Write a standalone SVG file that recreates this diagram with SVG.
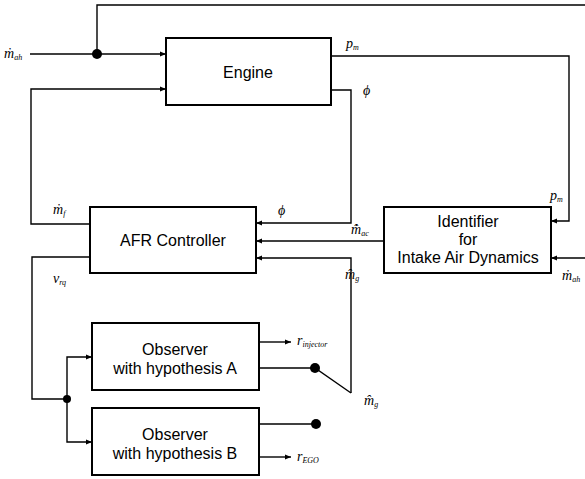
<svg xmlns="http://www.w3.org/2000/svg" width="585" height="479" viewBox="0 0 585 479">
<defs>
<style>
.box{fill:#fff;stroke:#000;stroke-width:2}
.ln{fill:none;stroke:#000;stroke-width:1.4}
.t{font-family:"Liberation Sans",Arial,sans-serif;font-size:16px;text-anchor:middle;fill:#000}
.m{font-family:"Liberation Serif","Times New Roman",serif;font-style:italic;font-size:14px;fill:#000}
.s{font-size:8px}
</style>
<marker id="ah" viewBox="0 0 10 10" refX="10" refY="5" markerWidth="8" markerHeight="6" orient="auto" markerUnits="userSpaceOnUse">
<path d="M0,1 L10,5 L0,9 z" fill="#000"/>
</marker>
</defs>
<rect width="585" height="479" fill="#fff"/>
<g id="connectors">
<path class="ln" d="M97,54 V5 H585"/>
<path class="ln" d="M30,54 H166" marker-end="url(#ah)"/>
<path class="ln" d="M90,224 H31 V89 H166" marker-end="url(#ah)"/>
<path class="ln" d="M331,56 H569 V221 H551" marker-end="url(#ah)"/>
<path class="ln" d="M331,90 H351 V223 H256" marker-end="url(#ah)"/>
<path class="ln" d="M384,241 H256" marker-end="url(#ah)"/>
<path class="ln" d="M351,393 V258 H256" marker-end="url(#ah)"/>
<path class="ln" d="M585,258 H551" marker-end="url(#ah)"/>
<path class="ln" d="M90,257 H32 V399 H67"/>
<path class="ln" d="M67,399 V357 H92" marker-end="url(#ah)"/>
<path class="ln" d="M67,399 V442 H92" marker-end="url(#ah)"/>
<path class="ln" d="M259,342 H291" marker-end="url(#ah)"/>
<path class="ln" d="M259,457 H291" marker-end="url(#ah)"/>
<path class="ln" d="M259,368 H315 L351,393"/>
<path class="ln" d="M259,424 H316"/>
<circle cx="97" cy="54" r="5"/>
<circle cx="67" cy="399" r="4"/>
<circle cx="315" cy="368" r="5"/>
<circle cx="316" cy="424" r="5"/>
</g>
<g id="engine">
<rect class="box" x="166" y="38" width="165" height="67"/>
<text class="t" x="248" y="78">Engine</text>
</g>
<g id="afr">
<rect class="box" x="90" y="207" width="166" height="66"/>
<text class="t" x="173" y="246">AFR Controller</text>
</g>
<g id="identifier">
<rect class="box" x="384" y="207" width="167" height="66"/>
<text class="t" x="468" y="227">Identifier</text>
<text class="t" x="468" y="245">for</text>
<text class="t" x="468" y="263">Intake Air Dynamics</text>
</g>
<g id="observerA">
<rect class="box" x="92" y="323" width="167" height="67"/>
<text class="t" x="175" y="355">Observer</text>
<text class="t" x="175" y="374">with hypothesis A</text>
</g>
<g id="observerB">
<rect class="box" x="92" y="408" width="167" height="67"/>
<text class="t" x="175" y="440">Observer</text>
<text class="t" x="175" y="459">with hypothesis B</text>
</g>
<g id="labels">
<text class="m" x="4" y="58">ṁ<tspan class="s" dy="2">ah</tspan></text>
<text class="m" x="346" y="48">p<tspan class="s" dy="2">m</tspan></text>
<text class="m" x="363" y="95">ϕ</text>
<text class="m" x="53" y="214">ṁ<tspan class="s" dy="2">f</tspan></text>
<text class="m" x="278" y="215">ϕ</text>
<text class="m" x="351" y="234">m̂̇<tspan class="s" dy="2">ac</tspan></text>
<text class="m" x="345" y="279">m̂<tspan class="s" dy="2">g</tspan></text>
<text class="m" x="550" y="200">p<tspan class="s" dy="2">m</tspan></text>
<text class="m" x="562" y="280">ṁ<tspan class="s" dy="2">ah</tspan></text>
<text class="m" x="53" y="283">v<tspan class="s" dy="2">rq</tspan></text>
<text class="m" x="297" y="345">r<tspan class="s" dy="2">injector</tspan></text>
<text class="m" x="364" y="405">m̂<tspan class="s" dy="2">g</tspan></text>
<text class="m" x="297" y="461">r<tspan class="s" dy="2">EGO</tspan></text>
</g>
</svg>
